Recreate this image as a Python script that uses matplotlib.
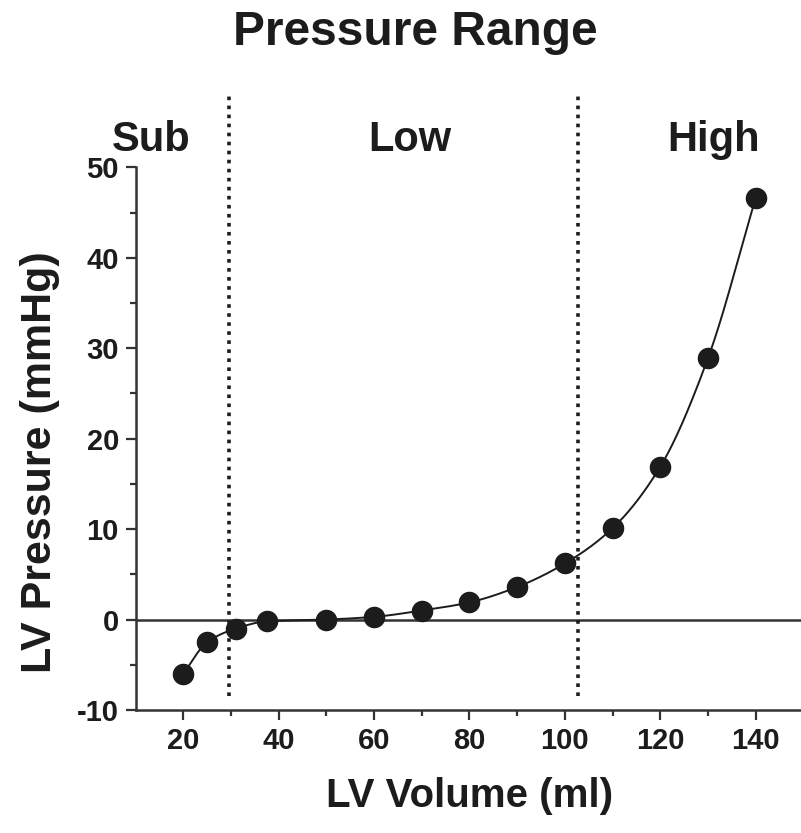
import matplotlib
matplotlib.use("Agg")
import matplotlib.pyplot as plt
import numpy as np

plt.rcParams["font.family"] = ["Liberation Sans", "DejaVu Sans"]
plt.rcParams["font.weight"] = "bold"
plt.rcParams["axes.unicode_minus"] = False

# data
volume = [20, 25, 31, 37.5, 50, 60, 70, 80, 90, 100, 110, 120, 130, 140]
pressure = [-6.0, -2.5, -1.0, -0.2, 0.0, 0.3, 1.0, 1.9, 3.6, 6.2, 10.1, 16.9, 28.9, 46.6]

boundaries = [29.6, 102.7]
range_names = ["Sub", "Low", "High"]
range_x = [151, 410, 714]  # label centres, px

INK = "#1c1c1c"


def pchip(x, y, n=40):
    # monotone cubic through the points, just for drawing the curve
    x = np.asarray(x, float)
    y = np.asarray(y, float)
    h = np.diff(x)
    d = np.diff(y) / h
    m = np.zeros_like(y)
    m[0], m[-1] = d[0], d[-1]
    for i in range(1, len(x) - 1):
        if d[i - 1] * d[i] > 0:
            w1 = 2 * h[i] + h[i - 1]
            w2 = h[i] + 2 * h[i - 1]
            m[i] = (w1 + w2) / (w1 / d[i - 1] + w2 / d[i])
    xs, ys = [], []
    for i in range(len(x) - 1):
        t = np.linspace(0, 1, n, endpoint=False)
        h00 = 2 * t**3 - 3 * t**2 + 1
        h10 = t**3 - 2 * t**2 + t
        h01 = -2 * t**3 + 3 * t**2
        h11 = t**3 - t**2
        xs.append(x[i] + t * h[i])
        ys.append(h00 * y[i] + h10 * h[i] * m[i] + h01 * y[i + 1] + h11 * h[i] * m[i + 1])
    xs.append([x[-1]])
    ys.append([y[-1]])
    return np.concatenate(xs), np.concatenate(ys)


W, H = 801, 833
fig = plt.figure(figsize=(W / 100, H / 100), dpi=100)
ax = fig.add_axes([135.6 / W, 1 - 710 / H, (W - 135.6) / W, (710 - 167.3) / H])

ax.axhline(0, color="#333333", lw=1.8, zorder=1)

sx, sy = pchip(volume, pressure)
ax.plot(sx, sy, color=INK, lw=1.4, zorder=2)
ax.plot(volume, pressure, "o", color=INK, ms=14.5, zorder=3)

for b in boundaries:
    ax.vlines(b, -8.5, 58, colors=INK, lw=2.6, linestyles=(0, (1, 1.5)),
              clip_on=False, zorder=2)

ax.set_xlim(10, 149.5)
ax.set_ylim(-10, 50)
ax.set_xticks(np.arange(20, 141, 20))
ax.set_xticks(np.arange(30, 141, 20), minor=True)
ax.set_yticks(np.arange(-10, 51, 10))
ax.set_yticks(np.arange(-5, 50, 10), minor=True)

for side in ["top", "right"]:
    ax.spines[side].set_visible(False)
for side in ["left", "bottom"]:
    ax.spines[side].set_linewidth(1.8)
    ax.spines[side].set_color("#333333")

ax.tick_params(which="major", length=7, width=1.6, color="#333333",
               labelsize=21, labelcolor=INK, pad=5)
ax.tick_params(which="minor", length=4, width=1.6, color="#333333")
for lab in ax.get_xticklabels() + ax.get_yticklabels():
    lab.set_fontweight("bold")

fig.text(415 / W, 1 - 45 / H, "Pressure Range", ha="center", va="baseline",
         fontsize=34.5, fontweight="bold", color=INK)
for name, px in zip(range_names, range_x):
    fig.text(px / W, 1 - 151 / H, name, ha="center", va="baseline",
             fontsize=30, fontweight="bold", color=INK)

fig.text(470 / W, 1 - 807 / H, "LV Volume (ml)", ha="center", va="baseline",
         fontsize=29, fontweight="bold", color=INK)
fig.text(40 / W, 1 - 462 / H, "LV Pressure (mmHg)", ha="center", va="center",
         rotation=90, fontsize=31, fontweight="bold", color=INK)

fig.savefig("out.png", dpi=100)
